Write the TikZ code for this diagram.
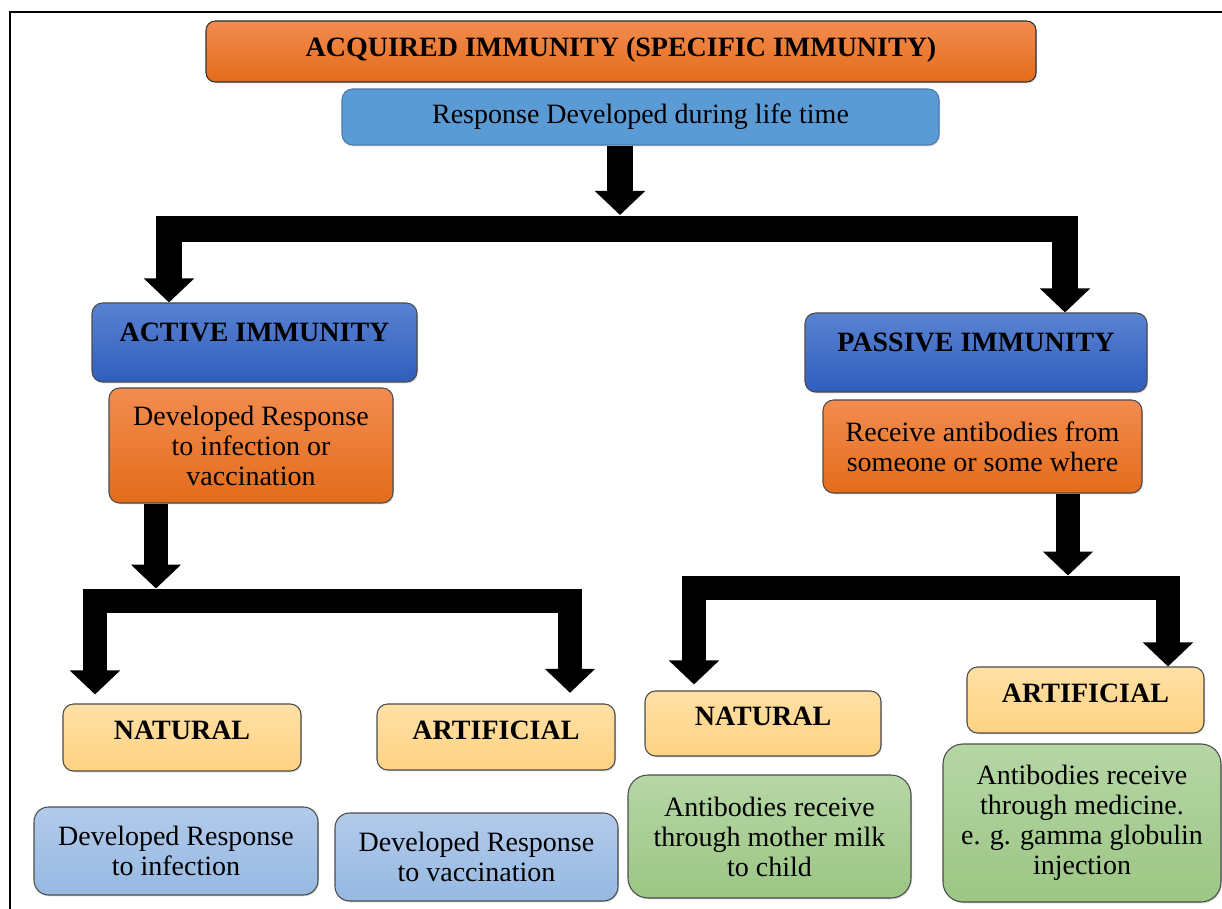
\documentclass[tikz,border=0pt]{standalone}
\usepackage{fontspec}
\setmainfont{Liberation Serif}
\usepackage{xcolor}
\usetikzlibrary{arrows.meta,shadows}

\definecolor{orgtop}{RGB}{242,140,80}
\definecolor{orgbot}{RGB}{228,108,26}
\definecolor{respblue}{RGB}{91,155,213}
\definecolor{bluetop}{RGB}{90,130,210}
\definecolor{bluebot}{RGB}{46,94,188}
\definecolor{yeltop}{RGB}{255,224,165}
\definecolor{yelbot}{RGB}{255,210,130}
\definecolor{lbtop}{RGB}{178,202,234}
\definecolor{lbbot}{RGB}{150,185,226}
\definecolor{grntop}{RGB}{182,214,166}
\definecolor{grnbot}{RGB}{156,198,132}

\begin{document}
\begin{tikzpicture}[x=0.75pt,y=-0.75pt]
\tikzset{box/.style={draw=black!70,line width=0.8pt,rounded corners=8pt,align=center,inner sep=2pt,drop shadow={shadow xshift=0.8pt,shadow yshift=-1pt,opacity=0.3}}}
\tikzset{orangebox/.style={box,top color=orgtop,bottom color=orgbot}}
\tikzset{headbox/.style={box,top color=bluetop,bottom color=bluebot,font=\bfseries,text height=14pt,text depth=15.75pt}}
\tikzset{kindbox/.style={box,top color=yeltop,bottom color=yelbot,font=\bfseries,text height=14pt,text depth=10.5pt}}
\tikzset{waybox/.style={box,rounded corners=11pt,top color=lbtop,bottom color=lbbot}}
\tikzset{milkbox/.style={box,rounded corners=15pt,top color=grntop,bottom color=grnbot}}
\tikzset{bigtip/.tip={Triangle[width=36.75pt,length=18pt]}}
\tikzset{pipe/.style={line width=#1,line join=miter}}

\fontsize{21}{22.5}\selectfont

\useasboundingbox (0,0) rectangle (1222,909);
\draw[line width=1.6pt] (10,12) rectangle (1240,930);

\node[orangebox,draw=black!80,rounded corners=7pt,font=\bfseries,text height=14pt,text depth=6.8pt,minimum width=622.5pt,minimum height=45.75pt] (acq) at (621,51.5) {ACQUIRED IMMUNITY (SPECIFIC IMMUNITY)};
\node[box,fill=respblue,draw=respblue!80!black,minimum width=447.75pt,minimum height=42pt] (resp) at (640.5,117) {Response Developed during life time};

\node[headbox,minimum width=243.75pt,minimum height=59.25pt] (active) at (254.5,342.5) {ACTIVE IMMUNITY};
\node[orangebox,minimum width=213pt,minimum height=86.25pt] (actdesc) at (251,445.5) {Developed Response\\to infection or\\vaccination};
\node[headbox,minimum width=256.5pt,minimum height=59.25pt] (passive) at (976,352.5) {PASSIVE IMMUNITY};
\node[orangebox,minimum width=239.25pt,minimum height=69.75pt] (pasdesc) at (982.5,446.5) {Receive antibodies from\\someone or some where};

\node[kindbox,minimum width=178.5pt,minimum height=50.25pt] (anat) at (182,737.5) {NATURAL};
\node[kindbox,minimum width=178.5pt,minimum height=49.5pt] (aart) at (496,737) {ARTIFICIAL};
\node[waybox,minimum width=213pt,minimum height=66pt] (andesc) at (176,851) {Developed Response\\to infection};
\node[waybox,minimum width=212.25pt,minimum height=66pt] (aadesc) at (476.5,857) {Developed Response\\to vaccination};

\node[kindbox,minimum width=177pt,minimum height=48.75pt] (pnat) at (763,723.5) {NATURAL};
\node[kindbox,minimum width=177.75pt,minimum height=49.5pt] (part) at (1085.5,700) {ARTIFICIAL};
\node[milkbox,minimum width=212.25pt,minimum height=92.25pt] (pndesc) at (769.5,836.5) {Antibodies receive\\through mother milk\\to child};
\node[milkbox,minimum width=208.5pt,minimum height=118.5pt] (padesc) at (1082,823) {Antibodies receive\\through medicine.\\e. g. gamma globulin\\injection};

\coordinate (hub) at (620,215);
\coordinate (barL) at (169,229);
\coordinate (barR) at (1065,229);
\draw[pipe=19.5pt,-bigtip] (resp.south -| hub) -- (hub);
\draw[pipe=20pt,bigtip-bigtip] (active.north -| barL) -- (barL) -- (barR) -- (passive.north -| barR);

\coordinate (ahub) at (156,588.5);
\coordinate (abarL) at (95,600.5);
\coordinate (abarR) at (570,600.5);
\draw[pipe=18pt,-bigtip] (actdesc.south -| ahub) -- (ahub);
\draw[pipe=18pt,bigtip-bigtip,shorten <=6.75pt,shorten >=8pt] (anat.north -| abarL) -- (abarL) -- (abarR) -- (aart.north -| abarR);

\coordinate (phub) at (1068,575.5);
\coordinate (pbarL) at (694,587.5);
\coordinate (pbarR) at (1168,587.5);
\draw[pipe=18pt,-bigtip] (pasdesc.south -| phub) -- (phub);
\draw[pipe=18pt,bigtip-bigtip,shorten <=4.5pt] (pnat.north -| pbarL) -- (pbarL) -- (pbarR) -- (part.north -| pbarR);

\end{tikzpicture}
\end{document}
